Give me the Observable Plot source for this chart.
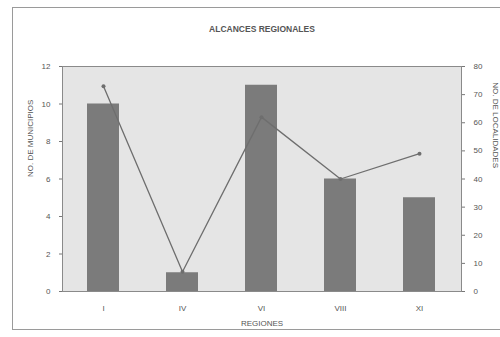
<!DOCTYPE html>
<html><head><meta charset="utf-8">
<script src="https://cdn.jsdelivr.net/npm/d3@7"></script>
<script src="https://cdn.jsdelivr.net/npm/@observablehq/plot@0.6"></script>
<style>
body{margin:0;background:#fff;}
#wrap{position:relative;width:500px;height:337px;}
#wrap svg{position:absolute;left:0;top:0;}
#border{position:absolute;left:12px;top:7px;width:490px;height:323px;border:1px solid #9a9a9a;border-right:none;box-sizing:border-box;z-index:2;pointer-events:none;}
</style></head><body><div id="wrap"><div id="border"></div></div>
<script>
const regiones = ["I", "IV", "VI", "VIII", "XI"];
const municipios = [10, 1, 11, 6, 5];
const localidades = [73, 7, 62, 40, 49];
const leftTicks = [0, 2, 4, 6, 8, 10, 12];
const rightTicks = [0, 10, 20, 30, 40, 50, 60, 70, 80];
const titulo = "ALCANCES REGIONALES";
const ejeX = "REGIONES";
const ejeIzq = "NO. DE MUNICIPIOS";
const ejeDer = "NO. DE LOCALIDADES";

const rightMax = 80, leftMax = 12;
const k = leftMax / rightMax;
const data = regiones.map((r, i) => ({r, m: municipios[i], l: localidades[i]}));

const chart = Plot.plot({
  width: 500, height: 337,
  marginLeft: 62, marginRight: 39, marginTop: 66, marginBottom: 46,
  style: {fontFamily: "Liberation Sans, Arial, sans-serif", fontSize: "8px", color: "#555", background: "transparent"},
  x: {domain: regiones, paddingInner: 0.59, paddingOuter: 0.295, label: null, axis: null},
  y: {domain: [0, leftMax], label: null, axis: null},
  marks: [
    Plot.frame({fill: "#e5e5e5", stroke: "#8a8a8a"}),
    Plot.barY(data, {x: "r", y: "m", fill: "#7b7b7b"}),
    Plot.line(data, {x: "r", y: d => d.l * k, stroke: "#6e6e6e", strokeWidth: 1.3}),
    Plot.dot(data, {x: "r", y: d => d.l * k, fill: "#6e6e6e", r: 2}),
    Plot.axisY(leftTicks, {anchor: "left", tickSize: 3, tickPadding: 9, stroke: "#777", fill: "#555", label: null}),
    Plot.axisY(rightTicks.map(v => v * k), {anchor: "right", tickSize: 3, tickPadding: 9, stroke: "#777", fill: "#555", label: null, tickFormat: v => Math.round(v / k)}),
    Plot.axisX({anchor: "bottom", tickSize: 0, tickPadding: 14, fill: "#555", label: null}),
    Plot.text([titulo], {frameAnchor: "top", dy: -41, fontWeight: "bold", fontSize: 8.5, fill: "#555"}),
    Plot.text([ejeX], {frameAnchor: "bottom", dy: 34, fill: "#555"}),
    Plot.text([ejeIzq], {frameAnchor: "left", dx: -32, dy: -2, rotate: -90, fill: "#555"}),
    Plot.text([ejeDer], {frameAnchor: "right", dx: 34, dy: -11, rotate: 90, fill: "#555"})
  ]
});
document.getElementById("wrap").appendChild(chart);
</script></body></html>
